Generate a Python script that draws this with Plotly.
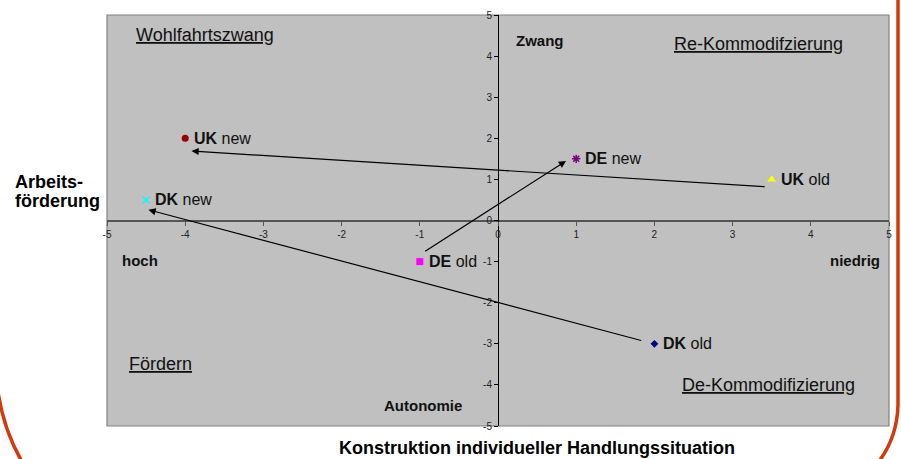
import plotly.graph_objects as go

# ---- data ----
countries = ["UK", "UK", "DK", "DK", "DE", "DE"]
states = ["new", "old", "new", "old", "old", "new"]
x_vals = [-4.0, 3.5, -4.5, 2.0, -1.0, 1.0]
y_vals = [2.0, 1.0, 0.5, -3.0, -1.0, 1.5]
symbols = ["circle", "triangle-up", "x-thin-open", "diamond", "square", "asterisk-open"]
colors = ["#990000", "#FFFF00", "#00FFFF", "#000080", "#FF00FF", "#800080"]
sizes = [7, 8, 7, 6, 7, 7]

# arrows (old -> new), tails and heads
arrow_tail_x = [3.43, 1.85, -0.95]
arrow_tail_y = [0.82, -2.93, -0.77]
arrow_head_x = [-3.92, -4.47, 0.87]
arrow_head_y = [1.69, 0.26, 1.45]

tick_vals = [-5, -4, -3, -2, -1, 0, 1, 2, 3, 4, 5]
tick_text = ["-5", "-4", "-3", "-2", "-1", "0", "1", "2", "3", "4", "5"]

FONT = "Liberation Sans, Arial, sans-serif"

W, H = 901, 459
L, R, T, B = 107, 12, 15, 33
PW, PH = W - L - R, H - T - B


def px(xp):
    return (xp - L) / PW


def py(yp):
    return (H - B - yp) / PH


fig = go.Figure()

annotations = []
for c, s, x, y, sym, col, sz in zip(countries, states, x_vals, y_vals, symbols, colors, sizes):
    is_line = sym.endswith("open")
    fig.add_trace(go.Scatter(
        x=[x], y=[y], mode="markers",
        marker=dict(symbol=sym, size=sz, color=col,
                    line=dict(color=col, width=1.5 if is_line else 0)),
        showlegend=False, cliponaxis=False, hoverinfo="skip",
    ))
    annotations.append(dict(
        x=x, y=y, xref="x", yref="y", text=f"<b>{c}</b> {s}", showarrow=False,
        xanchor="left", yanchor="middle", xshift=7,
        font=dict(family=FONT, size=16, color="#111111"),
    ))

for tx, ty, hx, hy in zip(arrow_tail_x, arrow_tail_y, arrow_head_x, arrow_head_y):
    annotations.append(dict(
        x=hx, y=hy, ax=tx, ay=ty, xref="x", yref="y", axref="x", ayref="y",
        text="", showarrow=True, arrowhead=2, arrowsize=1.2, arrowwidth=1.2,
        arrowcolor="#000000",
    ))

quad_labels = [
    ("<u>Wohlfahrtszwang</u>", -4.65, 4.51, 18),
    ("<u>Re-Kommodifzierung</u>", 2.22, 4.29, 18),
    ("<u>Fördern</u>", -4.75, -3.49, 18),
    ("<u>De-Kommodifizierung</u>", 2.33, -4.0, 18),
    ("<b>Zwang</b>", 0.20, 4.37, 15),
    ("<b>Autonomie</b>", -1.48, -4.51, 15),
    ("<b>hoch</b>", -4.83, -0.97, 15),
    ("<b>niedrig</b>", 4.22, -0.98, 15),
]
for txt, x, y, sz in quad_labels:
    annotations.append(dict(
        x=x, y=y, xref="x", yref="y", text=txt, showarrow=False,
        xanchor="left", yanchor="middle",
        font=dict(family=FONT, size=sz, color="#111111"),
    ))

for txt, yp in [("<b>Arbeits-</b>", 182), ("<b>förderung</b>", 201)]:
    annotations.append(dict(
        x=px(13), y=py(yp), xref="paper", yref="paper",
        text=txt, showarrow=False,
        xanchor="left", yanchor="middle", align="left",
        font=dict(family=FONT, size=18, color="#000000"),
    ))
annotations.append(dict(
    x=px(537), y=py(448), xref="paper", yref="paper",
    text="<b>Konstruktion individueller Handlungssituation</b>", showarrow=False,
    xanchor="center", yanchor="middle",
    font=dict(family=FONT, size=18, color="#000000"),
))

shapes = [
    dict(type="rect", xref="paper", yref="paper", x0=0, y0=0, x1=1, y1=1,
         line=dict(color="#808080", width=1.2), layer="below"),
    # slide frame (orange-red)
    dict(type="path", xref="paper", yref="paper",
         path=f"M {px(898)},{py(-5)} L {px(898)},{py(405)} Q {px(897)},{py(440)} {px(876)},{py(465)}",
         line=dict(color="#D03A0C", width=3.5)),
    dict(type="path", xref="paper", yref="paper",
         path=f"M {px(-2)},{py(392)} Q {px(4)},{py(432)} {px(24)},{py(465)}",
         line=dict(color="#D03A0C", width=3.5)),
]

fig.update_layout(
    width=W, height=H,
    margin=dict(l=L, r=R, t=T, b=B),
    paper_bgcolor="white", plot_bgcolor="#C0C0C0",
    xaxis=dict(range=[-5, 5], anchor="free", position=0.5,
               tickvals=tick_vals, ticktext=tick_text, ticks="outside", ticklen=4, tickwidth=1,
               tickcolor="#555555", showline=True, linecolor="#555555", linewidth=2,
               showgrid=False, zeroline=False, automargin=False, fixedrange=True,
               tickfont=dict(family=FONT, size=10, color="#222222")),
    yaxis=dict(range=[-5, 5], anchor="free", position=0.5,
               tickvals=tick_vals, ticktext=tick_text, ticks="outside", ticklen=4, tickwidth=1,
               tickcolor="#000000", showline=True, linecolor="#000000", linewidth=1,
               showgrid=False, zeroline=False, automargin=False, fixedrange=True,
               tickfont=dict(family=FONT, size=10, color="#222222")),
    annotations=annotations,
    shapes=shapes,
    showlegend=False,
    hovermode=False,
)

fig.write_html("out.html", config={"displayModeBar": False},
               post_script="document.body.style.margin='0';document.body.style.overflow='hidden';")
